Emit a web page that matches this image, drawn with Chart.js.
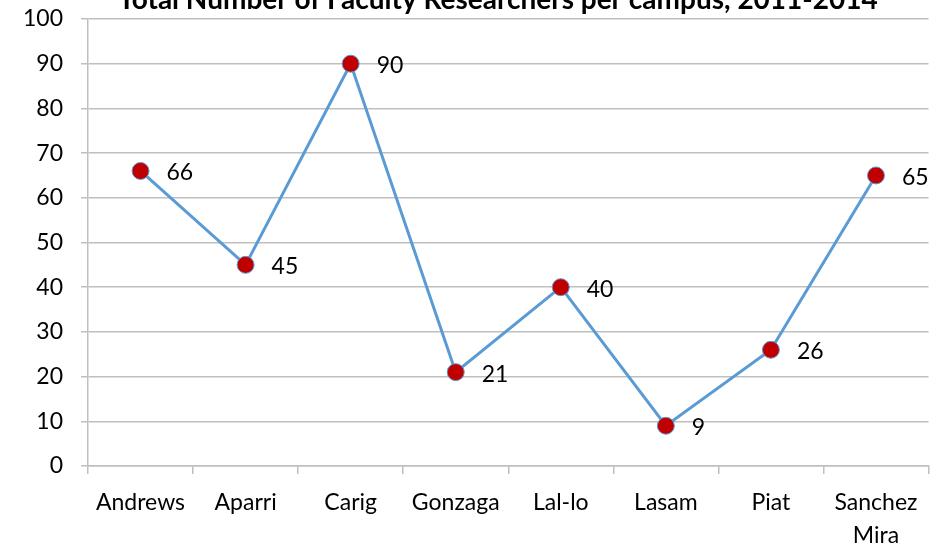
<!DOCTYPE html>
<html>
<head>
<meta charset="utf-8">
<script src="https://cdn.jsdelivr.net/npm/chart.js@4"></script>
<style>
  html, body { margin: 0; padding: 0; background: #fff; }
  #wrap { width: 938px; height: 545px; position: relative; }
</style>
</head>
<body>
<div id="wrap"><canvas id="grafico"></canvas></div>
<script>
const titulo = 'Total Number of Faculty Researchers per campus, 2011-2014';
const campus = ['Andrews', 'Aparri', 'Carig', 'Gonzaga', 'Lal-lo', 'Lasam', 'Piat', ['Sanchez', 'Mira']];
const investigadores = [66, 45, 90, 21, 40, 9, 26, 65];

const fuente = 'Lato, "Open Sans", sans-serif';

// etiquetas de valor a la derecha de cada punto
const etiquetasPlugin = {
    id: 'etiquetas',
    afterDatasetsDraw(chart) {
        const ctx = chart.ctx;
        const meta = chart.getDatasetMeta(0);
        ctx.save();
        ctx.font = '23px ' + fuente;
        ctx.fillStyle = '#000';
        ctx.textAlign = 'left';
        ctx.textBaseline = 'middle';
        meta.data.forEach((pt, i) => {
            ctx.fillText(String(investigadores[i]), pt.x + 26, pt.y + 2);
        });
        ctx.restore();
    }
};

// titulo cortado arriba, como en la imagen original
const tituloPlugin = {
    id: 'tituloCortado',
    afterDraw(chart) {
        const ctx = chart.ctx;
        ctx.save();
        ctx.font = 'bold 28px ' + fuente;
        ctx.fillStyle = '#000';
        ctx.textAlign = 'center';
        ctx.textBaseline = 'alphabetic';
        ctx.fillText(titulo, 498, 9);
        ctx.restore();
    }
};

const ctx = document.getElementById('grafico').getContext('2d');
new Chart(ctx, {
    type: 'line',
    data: {
        labels: campus,
        datasets: [{
            data: investigadores,
            borderColor: '#5b9bd5',
            borderWidth: 3,
            pointRadius: 8.5,
            pointHoverRadius: 8.5,
            pointBackgroundColor: '#c00000',
            pointBorderColor: '#5b9bd5',
            pointBorderWidth: 1,
            tension: 0,
            fill: false,
            clip: false
        }]
    },
    options: {
        responsive: true,
        maintainAspectRatio: false,
        animation: false,
        layout: { padding: { top: 19, right: 4, left: 0, bottom: 0 } },
        plugins: {
            legend: { display: false },
            tooltip: { enabled: false }
        },
        scales: {
            x: {
                offset: true,
                grid: {
                    offset: true,
                    drawOnChartArea: false,
                    color: '#bfbfbf',
                    lineWidth: 1.5,
                    tickLength: 8
                },
                border: { color: '#bfbfbf', width: 1.5 },
                ticks: {
                    color: '#000',
                    font: { family: fuente, size: 23, lineHeight: 1.45 },
                    padding: 12,
                    maxRotation: 0,
                    autoSkip: false
                },
                afterFit(scale) {
                    scale.height = 79;
                    scale.paddingLeft = 0;
                    scale.paddingRight = 0;
                }
            },
            y: {
                min: 0,
                max: 100,
                ticks: {
                    stepSize: 10,
                    color: '#000',
                    font: { family: fuente, size: 23 },
                    padding: 18
                },
                grid: {
                    color: '#bfbfbf',
                    lineWidth: 1.5,
                    tickLength: 7
                },
                border: { color: '#bfbfbf', width: 1.5 },
                afterFit(scale) {
                    scale.width = 88;
                    scale.paddingTop = 0;
                    scale.paddingBottom = 0;
                }
            }
        }
    },
    plugins: [etiquetasPlugin, tituloPlugin]
});
</script>
</body>
</html>
